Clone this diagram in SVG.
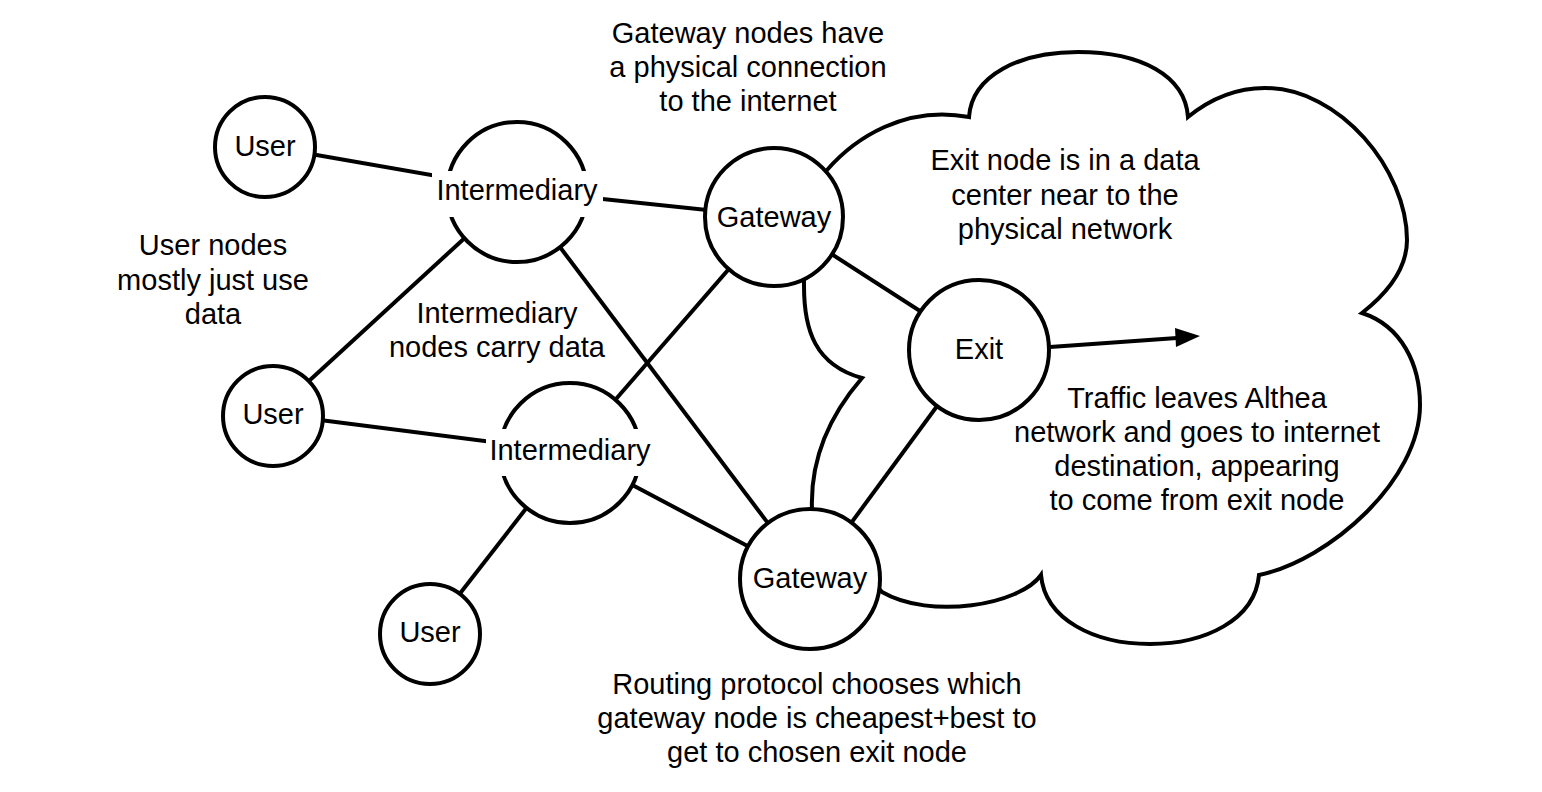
<svg xmlns="http://www.w3.org/2000/svg" width="1542" height="792" viewBox="0 0 1542 792">
<style>
text{font-family:"Liberation Sans",Arial,sans-serif;font-size:29px;fill:#000;text-anchor:middle}
.n{fill:#fff;stroke:#000;stroke-width:4}
.e{stroke:#000;stroke-width:4;fill:none}
.bg{fill:#fff}
</style>
<rect width="1542" height="792" fill="#fff"/>
<g id="cloud">
<path class="e" d="M862,378 C815,365 804,330 804,286 C804,240 800,200 827,170 C855,138 905,105 969,117 C972,75 1020,52 1078,52 C1140,52 1185,75 1188,117 C1215,95 1240,88 1265,88 C1340,88 1407,170 1407,240 C1407,270 1385,295 1362,313 C1402,326 1420,365 1420,405 C1420,480 1330,560 1259,575 C1255,620 1205,644 1150,644 C1095,644 1045,620 1041,575 C1020,605 930,620 882,592 L812,510 C810,460 830,415 862,378 Z"/>
</g>
<g id="connectors" class="e">
<line x1="265" y1="146" x2="517" y2="190"/>
<line x1="517" y1="190" x2="774" y2="217"/>
<line x1="517" y1="190" x2="810" y2="579"/>
<line x1="517" y1="190" x2="273" y2="414"/>
<line x1="273" y1="414" x2="570" y2="452"/>
<line x1="570" y1="452" x2="774" y2="217"/>
<line x1="570" y1="452" x2="810" y2="579"/>
<line x1="570" y1="452" x2="430" y2="632"/>
<line x1="774" y1="217" x2="979" y2="349"/>
<line x1="810" y1="579" x2="979" y2="349"/>
<line x1="1050" y1="347" x2="1177" y2="338"/>
<path d="M1200,336 L1175,328 L1176,347 Z" fill="#000" stroke="none"/>
</g>
<g id="user1"><circle class="n" cx="265" cy="147" r="50"/><text x="265" y="156">User</text></g>
<g id="intermediary1"><circle class="n" cx="517" cy="192" r="70"/><rect class="bg" x="432" y="171" width="171" height="46"/><text x="517" y="200">Intermediary</text></g>
<g id="gateway1"><circle class="n" cx="774" cy="217" r="69"/><text x="774" y="227">Gateway</text></g>
<g id="user2"><circle class="n" cx="273" cy="416" r="50"/><text x="273" y="424">User</text></g>
<g id="intermediary2"><circle class="n" cx="570" cy="453" r="70"/><rect class="bg" x="486" y="429" width="168" height="47"/><text x="570" y="460">Intermediary</text></g>
<g id="user3"><circle class="n" cx="430" cy="634" r="50"/><text x="430" y="642">User</text></g>
<g id="gateway2"><circle class="n" cx="810" cy="579" r="70"/><text x="810" y="588">Gateway</text></g>
<g id="exit"><circle class="n" cx="979" cy="350" r="70"/><text x="979" y="359">Exit</text></g>
<g id="labels">
<text x="748" y="43">Gateway nodes have</text>
<text x="748" y="77">a physical connection</text>
<text x="748" y="111">to the internet</text>
<text x="213" y="255">User nodes</text>
<text x="213" y="290">mostly just use</text>
<text x="213" y="324">data</text>
<text x="497" y="323">Intermediary</text>
<text x="497" y="357">nodes carry data</text>
<text x="1065" y="170">Exit node is in a data</text>
<text x="1065" y="205">center near to the</text>
<text x="1065" y="239">physical network</text>
<text x="1197" y="408">Traffic leaves Althea</text>
<text x="1197" y="442">network and goes to internet</text>
<text x="1197" y="476">destination, appearing</text>
<text x="1197" y="510">to come from exit node</text>
<text x="817" y="694">Routing protocol chooses which</text>
<text x="817" y="728">gateway node is cheapest+best to</text>
<text x="817" y="762">get to chosen exit node</text>
</g>
</svg>
